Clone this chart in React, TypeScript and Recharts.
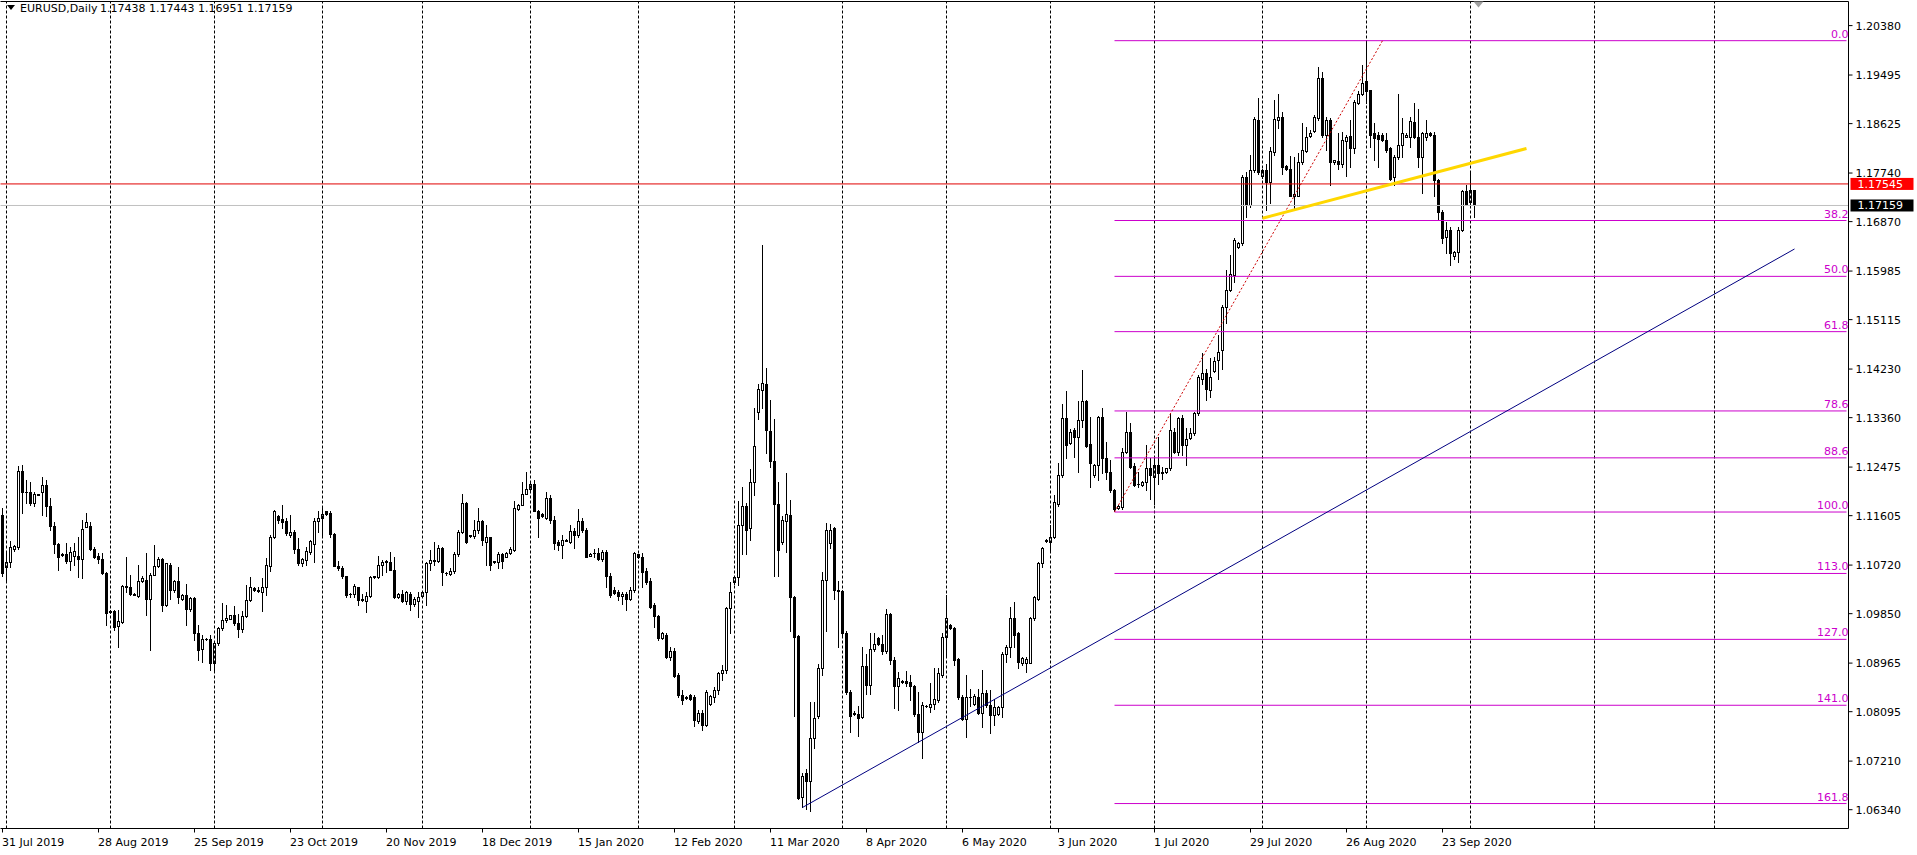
import React from "react";
import {
  ComposedChart,
  Bar,
  XAxis,
  YAxis,
  ReferenceLine,
  ReferenceDot,
} from "recharts";

// EURUSD daily, broker feed with sunday sessions.
// first bar = 31 Jul 2019, last bar = 2 Oct 2020. row: [open, high, low, close]
const candles: number[][] = [
  // Aug 2019
  [1.1162,1.1174,1.1052,1.1057],[1.1069,1.1093,1.1042,1.1078],[1.1078,1.1116,1.1068,1.1105],[1.1100,1.1108,1.1098,1.1106],
  [1.1105,1.1249,1.1100,1.1241],[1.1241,1.1251,1.1165,1.1203],[1.1203,1.1224,1.1183,1.1202],[1.1202,1.1221,1.1180,1.1184],[1.1184,1.1203,1.1177,1.1199],
  [1.1199,1.1200,1.1197,1.1198],[1.1203,1.1230,1.1162,1.1215],[1.1215,1.1224,1.1159,1.1177],[1.1177,1.1192,1.1135,1.1142],[1.1142,1.1150,1.1093,1.1109],[1.1109,1.1111,1.1063,1.1087],
  [1.1090,1.1094,1.1088,1.1091],[1.1091,1.1111,1.1075,1.1080],[1.1080,1.1105,1.1063,1.1095],[1.1088,1.1112,1.1072,1.1097],[1.1088,1.1123,1.1051,1.1082],[1.1082,1.1153,1.1048,1.1136],
  [1.1141,1.1165,1.1140,1.1149],[1.1142,1.1150,1.1099,1.1100],[1.1100,1.1105,1.1084,1.1087],[1.1088,1.1093,1.1075,1.1083],[1.1083,1.1093,1.1056,1.1057],[1.1057,1.1060,1.0965,1.0986],
  // Sep 2019
  [1.0989,1.0992,1.0986,1.0988],[1.0989,1.0992,1.0956,1.0962],[1.0963,1.0992,1.0925,1.0971],[1.0970,1.1036,1.0968,1.1034],[1.1033,1.1086,1.1024,1.1034],[1.1033,1.1054,1.1018,1.1021],
  [1.1020,1.1022,1.1018,1.1019],[1.1017,1.1072,1.1015,1.1044],[1.1044,1.1052,1.1042,1.1049],[1.1045,1.1093,1.0983,1.1012],[1.1012,1.1057,1.0920,1.1055],[1.1055,1.1108,1.1054,1.1071],
  [1.1071,1.1086,1.1069,1.1082],[1.1083,1.1084,1.0989,1.1001],[1.1001,1.1076,1.0998,1.1075],[1.1072,1.1075,1.1012,1.1027],[1.1027,1.1045,1.1024,1.1043],[1.1043,1.1069,1.1004,1.1015],
  [1.1012,1.1020,1.1010,1.1018],[1.1018,1.1039,1.0965,1.0993],[1.0993,1.1015,1.0989,1.1013],[1.1013,1.1015,1.0938,1.0950],[1.0950,1.0965,1.0902,1.0920],[1.0921,1.0947,1.0899,1.0940],
  [1.0940,1.0942,1.0938,1.0939],[1.0940,1.0947,1.0884,1.0897],
  // Oct 2019
  [1.0896,1.0935,1.0884,1.0932],[1.0932,1.0962,1.0929,1.0959],[1.0959,1.1004,1.0956,1.0974],[1.0973,1.1001,1.0970,1.0977],
  [1.0976,1.0983,1.0975,1.0982],[1.0982,1.0998,1.0965,1.0969],[1.0969,1.0984,1.0944,1.0958],[1.0958,1.0990,1.0953,1.0981],[1.0981,1.1036,1.0979,1.1010],[1.1010,1.1050,1.1007,1.1033],
  [1.1031,1.1033,1.1026,1.1027],[1.1027,1.1033,1.1023,1.1025],[1.1023,1.1048,1.0989,1.1033],[1.1032,1.1085,1.1018,1.1073],[1.1071,1.1126,1.1062,1.1123],[1.1123,1.1171,1.1120,1.1169],
  [1.1160,1.1162,1.1148,1.1153],[1.1154,1.1180,1.1138,1.1150],[1.1151,1.1156,1.1126,1.1129],[1.1126,1.1162,1.1123,1.1131],[1.1131,1.1135,1.1093,1.1101],[1.1101,1.1120,1.1072,1.1076],
  [1.1075,1.1085,1.1071,1.1082],[1.1081,1.1105,1.1072,1.1097],[1.1096,1.1117,1.1092,1.1115],[1.1110,1.1156,1.1078,1.1151],[1.1151,1.1168,1.1132,1.1156],
  // Nov 2019
  [1.1156,1.1176,1.1123,1.1163],
  [1.1168,1.1169,1.1162,1.1164],[1.1165,1.1168,1.1122,1.1128],[1.1128,1.1130,1.1070,1.1071],[1.1071,1.1080,1.1063,1.1066],[1.1066,1.1071,1.1048,1.1052],[1.1052,1.1053,1.1015,1.1018],
  [1.1021,1.1022,1.1015,1.1020],[1.1020,1.1039,1.1015,1.1035],[1.1032,1.1033,1.1001,1.1010],[1.1010,1.1021,1.1007,1.1011],[1.1007,1.1024,1.0988,1.1017],[1.1017,1.1052,1.1015,1.1050],
  [1.1051,1.1053,1.1049,1.1052],[1.1050,1.1088,1.1049,1.1072],[1.1072,1.1081,1.1054,1.1077],[1.1079,1.1081,1.1060,1.1078],[1.1077,1.1095,1.1063,1.1064],[1.1064,1.1087,1.1013,1.1014],
  [1.1014,1.1022,1.1013,1.1021],[1.1021,1.1028,1.1006,1.1008],[1.1008,1.1025,1.1003,1.1023],[1.1021,1.1024,1.0992,1.1002],[1.1002,1.1015,1.0999,1.1011],[1.1008,1.1024,1.0979,1.1015],
  // Dec 2019
  [1.1017,1.1025,1.1015,1.1023],[1.1023,1.1078,1.1001,1.1075],[1.1075,1.1099,1.1063,1.1081],[1.1081,1.1114,1.1072,1.1080],[1.1080,1.1108,1.1078,1.1102],[1.1102,1.1105,1.1036,1.1060],
  [1.1057,1.1059,1.1055,1.1058],[1.1056,1.1066,1.1054,1.1062],[1.1062,1.1096,1.1057,1.1091],[1.1091,1.1135,1.1088,1.1132],[1.1132,1.1200,1.1129,1.1183],[1.1183,1.1185,1.1112,1.1114],
  [1.1124,1.1126,1.1122,1.1125],[1.1124,1.1153,1.1120,1.1135],[1.1135,1.1174,1.1130,1.1151],[1.1151,1.1153,1.1108,1.1117],[1.1114,1.1144,1.1072,1.1122],[1.1122,1.1123,1.1063,1.1072],
  [1.1078,1.1080,1.1076,1.1079],[1.1078,1.1096,1.1066,1.1092],[1.1092,1.1094,1.1066,1.1080],[1.1087,1.1095,1.1086,1.1094],[1.1093,1.1104,1.1092,1.1101],[1.1099,1.1186,1.1098,1.1174],
  [1.1172,1.1182,1.1171,1.1180],[1.1180,1.1220,1.1179,1.1200],[1.1200,1.1238,1.1199,1.1208],
  // Jan 2020
  [1.1208,1.1220,1.1205,1.1217],[1.1217,1.1224,1.1168,1.1169],[1.1168,1.1171,1.1123,1.1156],
  [1.1164,1.1165,1.1158,1.1159],[1.1156,1.1203,1.1154,1.1193],[1.1193,1.1197,1.1147,1.1152],[1.1152,1.1159,1.1100,1.1111],[1.1114,1.1117,1.1099,1.1108],[1.1108,1.1126,1.1084,1.1117],
  [1.1116,1.1118,1.1115,1.1117],[1.1114,1.1144,1.1111,1.1133],[1.1133,1.1138,1.1103,1.1125],[1.1125,1.1172,1.1123,1.1151],[1.1151,1.1156,1.1132,1.1135],[1.1135,1.1138,1.1086,1.1087],
  [1.1089,1.1093,1.1088,1.1092],[1.1093,1.1101,1.1086,1.1094],[1.1093,1.1102,1.1081,1.1083],[1.1083,1.1099,1.1080,1.1095],[1.1095,1.1099,1.1033,1.1053],[1.1053,1.1057,1.1015,1.1018],
  [1.1028,1.1033,1.1020,1.1022],[1.1023,1.1027,1.1010,1.1017],[1.1017,1.1024,1.1003,1.1021],[1.1021,1.1024,1.0992,1.1012],[1.1012,1.1033,1.1009,1.1027],[1.1027,1.1096,1.1024,1.1093],
  // Feb 2020
  [1.1091,1.1092,1.1085,1.1087],[1.1086,1.1093,1.1033,1.1060],[1.1062,1.1066,1.1039,1.1042],[1.1044,1.1048,1.0995,1.0997],[1.1000,1.1004,1.0962,1.0980],[1.0980,1.0983,1.0938,1.0941],
  [1.0941,1.0952,1.0939,1.0950],[1.0947,1.0950,1.0905,1.0908],[1.0908,1.0926,1.0902,1.0919],[1.0919,1.0923,1.0872,1.0873],[1.0875,1.0878,1.0836,1.0840],[1.0840,1.0848,1.0824,1.0830],
  [1.0835,1.0838,1.0832,1.0834],[1.0839,1.0842,1.0830,1.0833],[1.0836,1.0839,1.0783,1.0795],[1.0792,1.0812,1.0789,1.0808],[1.0808,1.0812,1.0777,1.0786],[1.0786,1.0848,1.0783,1.0844],
  [1.0824,1.0840,1.0822,1.0838],[1.0836,1.0854,1.0827,1.0848],[1.0848,1.0881,1.0842,1.0878],[1.0878,1.0893,1.0866,1.0885],[1.0884,1.0997,1.0878,1.0995],[1.0995,1.1042,1.0950,1.1023],
  // Mar 2020
  [1.1041,1.1053,1.1039,1.1050],[1.1050,1.1187,1.1037,1.1143],[1.1143,1.1212,1.1092,1.1177],[1.1177,1.1184,1.1092,1.1135],[1.1138,1.1244,1.1117,1.1220],[1.1220,1.1354,1.1198,1.1285],
  [1.1347,1.1396,1.1333,1.1387],[1.1386,1.1646,1.1354,1.1398],[1.1396,1.1425,1.1273,1.1313],[1.1312,1.1368,1.1248,1.1259],[1.1259,1.1333,1.1053,1.1181],[1.1181,1.1220,1.1053,1.1099],
  [1.1113,1.1159,1.1110,1.1152],[1.1151,1.1237,1.1096,1.1163],[1.1161,1.1188,1.0954,1.1014],[1.1014,1.1017,1.0802,1.0943],[1.0945,1.0947,1.0653,1.0655],[1.0657,1.0700,1.0639,1.0695],
  [1.0700,1.0706,1.0635,1.0686],[1.0686,1.0827,1.0632,1.0763],[1.0763,1.0827,1.0745,1.0798],[1.0802,1.0894,1.0798,1.0887],[1.0887,1.1060,1.0876,1.1046],[1.1046,1.1147,1.0954,1.1135],
  [1.1111,1.1145,1.1103,1.1135],[1.1138,1.1140,1.1011,1.1028],[1.1028,1.1043,1.0926,1.1025],
  // Apr 2020
  [1.1025,1.1028,1.0947,1.0951],[1.0951,1.0954,1.0841,1.0844],[1.0844,1.0848,1.0773,1.0802],
  [1.0807,1.0810,1.0803,1.0806],[1.0805,1.0820,1.0766,1.0798],[1.0800,1.0926,1.0798,1.0892],[1.0892,1.0912,1.0841,1.0858],[1.0858,1.0951,1.0841,1.0922],[1.0921,1.0951,1.0919,1.0931],
  [1.0941,1.0943,1.0929,1.0931],[1.0931,1.0947,1.0912,1.0919],[1.0919,1.0993,1.0915,1.0984],[1.0984,1.0986,1.0894,1.0902],[1.0902,1.0908,1.0816,1.0856],[1.0856,1.0880,1.0812,1.0869],
  [1.0865,1.0867,1.0860,1.0863],[1.0864,1.0883,1.0855,1.0861],[1.0862,1.0876,1.0830,1.0855],[1.0855,1.0858,1.0802,1.0805],[1.0805,1.0844,1.0756,1.0773],[1.0773,1.0827,1.0727,1.0821],
  [1.0820,1.0822,1.0817,1.0819],[1.0818,1.0860,1.0809,1.0823],[1.0823,1.0887,1.0815,1.0833],[1.0830,1.0887,1.0827,1.0878],[1.0875,1.0950,1.0872,1.0944],
  // May 2020
  [1.0944,1.1019,1.0911,1.0977],
  [1.0965,1.0967,1.0957,1.0959],[1.0959,1.0962,1.0893,1.0902],[1.0903,1.0905,1.0833,1.0836],[1.0836,1.0839,1.0795,1.0797],[1.0797,1.0875,1.0765,1.0836],[1.0836,1.0850,1.0820,1.0835],
  [1.0823,1.0842,1.0821,1.0837],[1.0835,1.0851,1.0806,1.0808],[1.0808,1.0885,1.0782,1.0843],[1.0843,1.0848,1.0818,1.0821],[1.0821,1.0848,1.0772,1.0803],[1.0803,1.0833,1.0785,1.0817],
  [1.0806,1.0820,1.0803,1.0818],[1.0817,1.0917,1.0800,1.0913],[1.0913,1.0929,1.0899,1.0925],[1.0925,1.0997,1.0908,1.0978],[1.0978,1.1006,1.0926,1.0947],[1.0950,1.0953,1.0887,1.0899],
  [1.0897,1.0907,1.0893,1.0905],[1.0897,1.0908,1.0880,1.0903],[1.0897,1.0979,1.0896,1.0977],[1.0977,1.1017,1.0974,1.1014],[1.1012,1.1078,1.1009,1.1076],[1.1075,1.1105,1.1068,1.1102],
  [1.1115,1.1118,1.1114,1.1117],
  // Jun 2020
  [1.1114,1.1144,1.1099,1.1123],[1.1122,1.1197,1.1120,1.1185],[1.1182,1.1255,1.1177,1.1233],[1.1233,1.1360,1.1230,1.1335],[1.1335,1.1384,1.1263,1.1287],
  [1.1290,1.1315,1.1288,1.1310],[1.1314,1.1317,1.1266,1.1302],[1.1302,1.1365,1.1239,1.1332],[1.1332,1.1421,1.1320,1.1366],[1.1366,1.1368,1.1284,1.1286],[1.1289,1.1338,1.1211,1.1254],
  [1.1233,1.1253,1.1230,1.1251],[1.1251,1.1339,1.1224,1.1337],[1.1337,1.1353,1.1236,1.1263],[1.1263,1.1293,1.1227,1.1239],[1.1239,1.1260,1.1203,1.1206],[1.1206,1.1209,1.1168,1.1172],
  [1.1175,1.1180,1.1173,1.1177],[1.1176,1.1281,1.1173,1.1275],[1.1275,1.1347,1.1272,1.1311],[1.1311,1.1326,1.1245,1.1248],[1.1249,1.1254,1.1213,1.1215],[1.1217,1.1239,1.1211,1.1218],
  [1.1215,1.1222,1.1214,1.1221],[1.1221,1.1287,1.1206,1.1245],[1.1245,1.1263,1.1191,1.1233],
  // Jul 2020
  [1.1230,1.1266,1.1182,1.1251],[1.1251,1.1302,1.1218,1.1236],[1.1236,1.1248,1.1227,1.1238],
  [1.1239,1.1246,1.1237,1.1245],[1.1245,1.1344,1.1242,1.1313],[1.1311,1.1317,1.1272,1.1274],[1.1274,1.1338,1.1269,1.1336],[1.1336,1.1341,1.1269,1.1287],[1.1287,1.1317,1.1251,1.1298],
  [1.1299,1.1317,1.1298,1.1308],[1.1308,1.1347,1.1305,1.1344],[1.1344,1.1412,1.1341,1.1409],[1.1406,1.1451,1.1397,1.1416],[1.1416,1.1424,1.1367,1.1388],[1.1385,1.1442,1.1373,1.1409],
  [1.1420,1.1445,1.1418,1.1437],[1.1439,1.1484,1.1406,1.1454],[1.1457,1.1538,1.1424,1.1535],[1.1535,1.1600,1.1505,1.1565],[1.1565,1.1627,1.1562,1.1594],[1.1591,1.1657,1.1579,1.1654],
  [1.1642,1.1650,1.1640,1.1648],[1.1648,1.1770,1.1645,1.1767],[1.1767,1.1776,1.1696,1.1717],[1.1717,1.1806,1.1714,1.1779],[1.1779,1.1874,1.1776,1.1870],[1.1869,1.1908,1.1773,1.1775],
  // Aug 2020
  [1.1769,1.1781,1.1766,1.1779],[1.1779,1.1791,1.1708,1.1758],[1.1758,1.1821,1.1720,1.1813],[1.1812,1.1905,1.1806,1.1870],[1.1869,1.1915,1.1855,1.1874],[1.1874,1.1884,1.1773,1.1784],
  [1.1787,1.1789,1.1779,1.1781],[1.1781,1.1804,1.1732,1.1733],[1.1733,1.1803,1.1711,1.1736],[1.1733,1.1809,1.1732,1.1793],[1.1793,1.1864,1.1790,1.1815],[1.1814,1.1857,1.1812,1.1839],
  [1.1840,1.1851,1.1838,1.1846],[1.1850,1.1878,1.1848,1.1874],[1.1872,1.1964,1.1869,1.1945],[1.1945,1.1955,1.1839,1.1842],[1.1843,1.1875,1.1815,1.1869],[1.1869,1.1872,1.1753,1.1793],
  [1.1793,1.1798,1.1791,1.1797],[1.1796,1.1845,1.1782,1.1790],[1.1791,1.1848,1.1785,1.1833],[1.1832,1.1842,1.1769,1.1838],[1.1840,1.1869,1.1785,1.1818],[1.1818,1.1905,1.1809,1.1902],
  [1.1900,1.1920,1.1898,1.1916],[1.1916,1.1967,1.1914,1.1935],
  // Sep 2020
  [1.1938,1.2012,1.1899,1.1920],[1.1922,1.1923,1.1821,1.1842],[1.1845,1.1864,1.1797,1.1836],[1.1843,1.1847,1.1785,1.1835],
  [1.1843,1.1845,1.1831,1.1833],[1.1833,1.1845,1.1812,1.1815],[1.1818,1.1821,1.1761,1.1763],[1.1767,1.1806,1.1753,1.1803],[1.1803,1.1916,1.1800,1.1825],[1.1825,1.1872,1.1803,1.1846],
  [1.1839,1.1845,1.1838,1.1843],[1.1839,1.1875,1.1821,1.1867],[1.1866,1.1899,1.1836,1.1839],[1.1839,1.1888,1.1785,1.1803],[1.1803,1.1848,1.1738,1.1845],[1.1839,1.1869,1.1833,1.1846],
  [1.1845,1.1847,1.1841,1.1843],[1.1843,1.1848,1.1732,1.1761],[1.1761,1.1763,1.1690,1.1705],[1.1705,1.1708,1.1648,1.1657],[1.1659,1.1687,1.1630,1.1672],[1.1672,1.1678,1.1609,1.1630],
  [1.1625,1.1634,1.1620,1.1632],[1.1632,1.1678,1.1614,1.1672],[1.1672,1.1744,1.1670,1.1741],[1.1741,1.1753,1.1717,1.1718],
  // Oct 2020
  [1.1723,1.1776,1.1717,1.1744],[1.17438,1.17443,1.16951,1.17159],
];

// time scale labels, one every 24 bars starting at bar 0
const dateLabels = [
  "31 Jul 2019", "28 Aug 2019", "25 Sep 2019", "23 Oct 2019", "20 Nov 2019", "18 Dec 2019",
  "15 Jan 2020", "12 Feb 2020", "11 Mar 2020", "8 Apr 2020", "6 May 2020", "3 Jun 2020",
  "1 Jul 2020", "29 Jul 2020", "26 Aug 2020", "23 Sep 2020",
];
const labelStep = 24;

const priceTicks = [
  1.2038, 1.19495, 1.18625, 1.1774, 1.1687, 1.15985, 1.15115, 1.1423, 1.1336,
  1.12475, 1.11605, 1.1072, 1.0985, 1.08965, 1.08095, 1.0721, 1.0634,
];

// first bar of each month (period separators), two future ones included
const monthStarts = [1, 27, 53, 80, 105, 132, 159, 183, 210, 236, 262, 288, 315, 341, 367, 398, 428];

const fibNames = ["0.0", "38.2", "50.0", "61.8", "78.6", "88.6", "100.0", "113.0", "127.0", "141.0", "161.8"];
const fibPrices = [1.2011, 1.1689, 1.1589, 1.149, 1.1348, 1.1264, 1.1167, 1.1057, 1.0939, 1.0821, 1.0645];
const fibStartBar = 278;
const fibDiagonal = [{ x: 278, y: 1.1167 }, { x: 345, y: 1.2011 }];
const blueTrend = [{ x: 200, y: 1.0638 }, { x: 448, y: 1.1638 }];
const yellowTrend = [{ x: 315, y: 1.1693 }, { x: 381, y: 1.1818 }];

const askLevel = 1.17545;
const bidLevel = 1.17159;
const slotCount = 462; // bars + empty shift area on the right
const yDomain: [number, number] = [1.0600329, 1.2081153];

const FONT = "DejaVu Sans";
const FIB_COLOR = "#CC00CC";

const rows = Array.from({ length: slotCount }, (_, i) => ({ i, c: candles[i] || null }));

function Candle(props: any) {
  const { x, y, width, height, payload } = props;
  const c = payload && payload.c;
  if (!c || x == null || y == null || isNaN(y)) return null;
  const [o, h, l, cl] = c;
  const y0 = Math.min(y, y + height);
  const y1 = Math.max(y, y + height);
  const span = h - l;
  const toY = (p: number) => (span > 0 ? y0 + ((h - p) / span) * (y1 - y0) : y0);
  const col = Math.floor(x + width / 2);
  const top = Math.round(toY(Math.max(o, cl)));
  const bot = Math.round(toY(Math.min(o, cl)));
  const up = cl >= o;
  return (
    <g>
      <line x1={col + 0.5} x2={col + 0.5} y1={Math.round(y0)} y2={Math.round(y1) + 1} stroke="#000" />
      {bot - top < 1 ? (
        <line x1={col - 1} x2={col + 2} y1={top + 0.5} y2={top + 0.5} stroke="#000" />
      ) : (
        <rect x={col - 0.5} y={top + 0.5} width={2} height={bot - top} fill={up ? "#fff" : "#000"} stroke="#000" />
      )}
    </g>
  );
}

function DateTick(props: any) {
  const { x, y, payload } = props;
  const label = dateLabels[payload.value / labelStep];
  if (!label) return null;
  return (
    <g>
      <line x1={x} x2={x} y1={y} y2={y + 4} stroke="#000" />
      <text x={x - 0.5} y={y + 17} fontSize={11} fontFamily={FONT} fill="#000">
        {label}
      </text>
    </g>
  );
}

function PriceTag(props: any) {
  const { viewBox, text, bg } = props;
  if (!viewBox) return null;
  const x = viewBox.x + viewBox.width;
  const y = viewBox.y;
  return (
    <g>
      <rect x={x + 2} y={y - 6} width={63} height={12} fill={bg} />
      <text x={x + 9} y={y + 4} fontSize={11} fontFamily={FONT} fill="#fff">
        {text}
      </text>
    </g>
  );
}

const last = candles[candles.length - 1];

export default function App() {
  return (
    <div style={{ position: "absolute", left: 0, top: 0, width: 1917, height: 855, background: "#fff" }}>
      <ComposedChart
        width={1917}
        height={855}
        data={rows}
        margin={{ top: 1.5, right: 0, bottom: 0, left: 0.5 }}
        barCategoryGap={0}
        barGap={0}
      >
        <XAxis
          dataKey="i"
          type="category"
          interval={labelStep - 1}
          height={26.5}
          tickSize={0}
          tickMargin={0}
          tickLine={false}
          axisLine={{ stroke: "#000" }}
          tick={(p: any) => <DateTick {...p} />}
        />
        <YAxis
          orientation="right"
          type="number"
          domain={yDomain}
          allowDataOverflow
          ticks={priceTicks}
          interval={0}
          width={68.5}
          tickSize={4}
          tickMargin={3}
          tickFormatter={(v: number) => v.toFixed(5)}
          tick={{ fontSize: 11, fontFamily: FONT, fill: "#000" }}
          axisLine={{ stroke: "#000" }}
          tickLine={{ stroke: "#000" }}
        />
        <ReferenceLine y={yDomain[1]} stroke="#000" ifOverflow="visible" />
        {monthStarts.map((m) => (
          <ReferenceLine key={"sep" + m} x={m} stroke="#000" strokeDasharray="3 2" />
        ))}
        <Bar
          dataKey={(r: any) => (r.c ? [r.c[2], r.c[1]] : null)}
          barSize={4}
          isAnimationActive={false}
          shape={(p: any) => <Candle {...p} />}
        />
        <ReferenceLine y={bidLevel} stroke="#C0C0C0" label={<PriceTag text={bidLevel.toFixed(5)} bg="#000" />} />
        <ReferenceLine y={askLevel} stroke="#E00000" label={<PriceTag text={askLevel.toFixed(5)} bg="#FF0000" />} />
        {fibPrices.map((p, k) => (
          <ReferenceLine
            key={"fib" + k}
            segment={[{ x: fibStartBar, y: p }, { x: slotCount - 1, y: p }]}
            stroke={FIB_COLOR}
          />
        ))}
        {fibPrices.map((p, k) => (
          <ReferenceDot
            key={"fibtxt" + k}
            x={slotCount - 1}
            y={p}
            ifOverflow="visible"
            shape={(d: any) => (
              <text x={d.cx + 2} y={d.cy - 3} textAnchor="end" fontSize={11} fontFamily={FONT} fill={FIB_COLOR}>
                {fibNames[k]}
              </text>
            )}
          />
        ))}
        <ReferenceLine segment={fibDiagonal} stroke="#CC0000" strokeDasharray="2 2" />
        <ReferenceLine segment={blueTrend} stroke="#000080" />
        <ReferenceLine segment={yellowTrend} stroke="#FFD700" strokeWidth={3} />
        <ReferenceDot
          x={candles.length}
          y={yDomain[1]}
          ifOverflow="visible"
          shape={(p: any) => (
            <polygon points={`${p.cx - 5},${p.cy} ${p.cx + 5},${p.cy} ${p.cx},${p.cy + 6}`} fill="#A0A0A0" />
          )}
        />
      </ComposedChart>
      <svg width={420} height={16} style={{ position: "absolute", left: 0, top: 0 }}>
        <polygon points="7,5 15,5 11,10" fill="#000" />
        <text x={20} y={12} fontSize={11} fontFamily={FONT} fill="#000">
          EURUSD,Daily
        </text>
        <text x={100} y={12} fontSize={11} fontFamily={FONT} fill="#000">
          {last.map((v) => v.toFixed(5)).join(" ")}
        </text>
      </svg>
    </div>
  );
}
